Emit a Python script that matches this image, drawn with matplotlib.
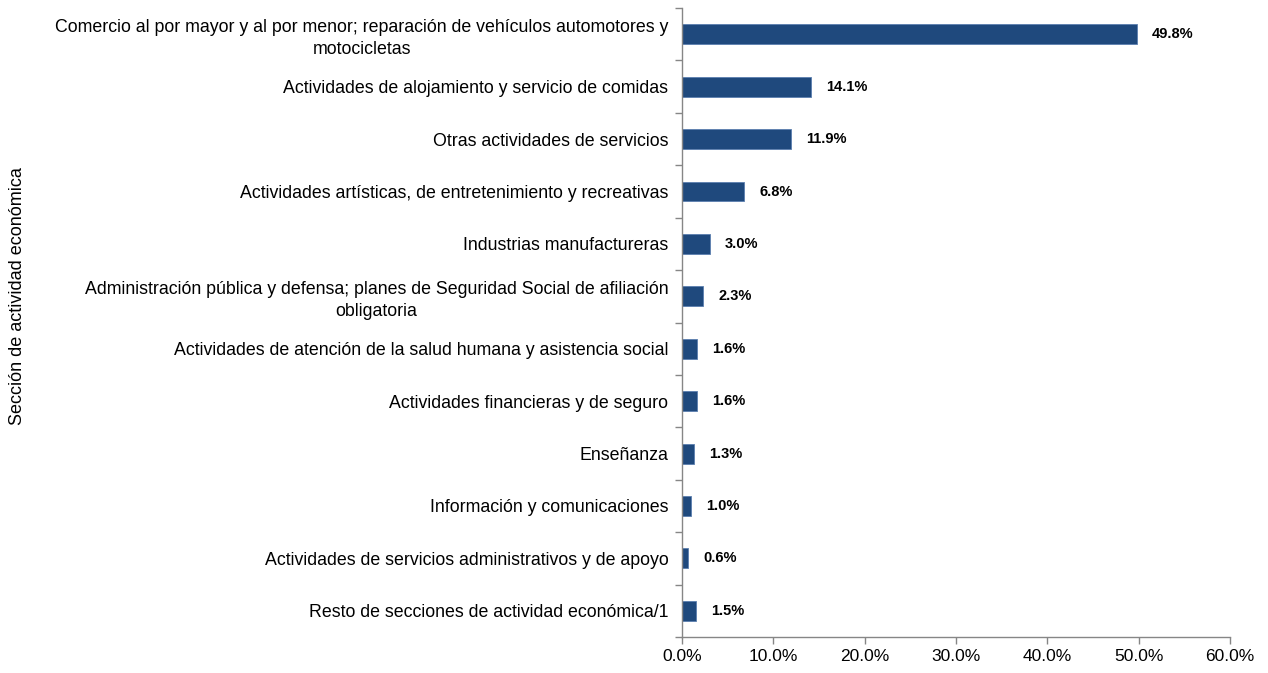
import matplotlib.pyplot as plt
import numpy as np
from matplotlib.ticker import FuncFormatter, FixedLocator

categories = [
    "Comercio al por mayor y al por menor; reparación de vehículos automotores y\nmotocicletas",
    "Actividades de alojamiento y servicio de comidas",
    "Otras actividades de servicios",
    "Actividades artísticas, de entretenimiento y recreativas",
    "Industrias manufactureras",
    "Administración pública y defensa; planes de Seguridad Social de afiliación\nobligatoria",
    "Actividades de atención de la salud humana y asistencia social",
    "Actividades financieras y de seguro",
    "Enseñanza",
    "Información y comunicaciones",
    "Actividades de servicios administrativos y de apoyo",
    "Resto de secciones de actividad económica/1",
]
values = [49.8, 14.1, 11.9, 6.8, 3.0, 2.3, 1.6, 1.6, 1.3, 1.0, 0.6, 1.5]

plt.rc("font", family=["Liberation Sans", "DejaVu Sans"])

fig = plt.figure(figsize=(12.68, 6.73), dpi=100)
ax = fig.add_axes([0.538, 0.0535, 0.432, 0.9345])

n = len(categories)
y = np.arange(n)
ax.barh(y, values, height=0.38, color="#1F497D", edgecolor="#5B7FAF", linewidth=0.6)

for yi, v in zip(y, values):
    ax.annotate(f"{v:.1f}%", (v, yi), xytext=(11, 0), textcoords="offset points",
                va="center", ha="left", fontsize=10.5, fontweight="bold")

ax.set_ylim(n - 0.5, -0.5)
ax.set_xlim(0, 60)
ax.set_yticks(y)
ax.set_yticklabels(categories, fontsize=12.75, ha="right", multialignment="center",
                   linespacing=1.38)
ax.yaxis.set_minor_locator(FixedLocator(np.arange(-0.5, n, 1)))
ax.tick_params(axis="y", which="major", length=0, pad=10)
ax.tick_params(axis="y", which="minor", length=5, color="#868686", width=1)

ax.set_xticks(np.arange(0, 61, 10))
ax.xaxis.set_major_formatter(FuncFormatter(lambda x, p: f"{x:.1f}%"))
ax.tick_params(axis="x", length=5, color="#868686", width=1, labelsize=12.5, pad=4)

for s in ["top", "right"]:
    ax.spines[s].set_visible(False)
for s in ["left", "bottom"]:
    ax.spines[s].set_color("#868686")
    ax.spines[s].set_linewidth(1)

fig.text(0.014, 0.56, "Sección de actividad económica", rotation=90,
         va="center", ha="center", fontsize=13)

fig.savefig("out.png", dpi=100)
